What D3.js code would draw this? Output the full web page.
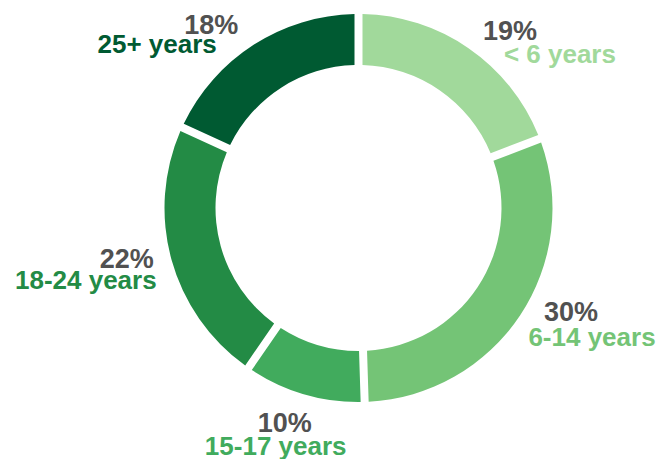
<!DOCTYPE html>
<html>
<head>
<meta charset="utf-8">
<script src="https://cdn.jsdelivr.net/npm/d3@7"></script>
<style>
  body { margin: 0; background: #fff; }
  text { font-family: "Liberation Sans", Arial, sans-serif; font-weight: bold; }
</style>
</head>
<body>
<svg id="chart"></svg>
<script>
// age groups, clockwise from 12 o'clock
const categories = ["< 6 years", "6-14 years", "15-17 years", "18-24 years", "25+ years"];
const shares = [19, 30, 10, 22, 18];
const colors = ["#a1d99b", "#74c476", "#41ab5d", "#238b45", "#005a32"];

// hand placed label nudges (relative to the label anchor on each slice)
const pctNudge = [[21, 21], [21, -14], [-9, 3], [-10, -1], [-23, 19]];
const catNudge = [[71, 44], [42, 11], [-18, 26], [-51, 20], [-77, 38]];

const width = 658;
const height = 459;
const cx = 358.5;
const cy = 208;
const outerR = 194;
const innerR = 143;
const labelR = 230;

const svg = d3.select('#chart')
  .attr('width', width)
  .attr('height', height);

const data = categories.map(function (c, i) {
  return { label: c, value: shares[i], color: colors[i], i: i };
});

const pie = d3.pie()
  .sort(null)
  .value(function (d) { return d.value });

const arc = d3.arc()
  .innerRadius(innerR)
  .outerRadius(outerR)
  .padRadius(100)
  .padAngle(0.08);

const labelArc = d3.arc()
  .innerRadius(labelR)
  .outerRadius(labelR);

const arcs = pie(data);

const g = svg.append('g')
  .attr('transform', 'translate(' + cx + ',' + cy + ')');

g.append('g')
  .attr('class', 'slices')
  .selectAll('path')
  .data(arcs)
  .enter().append('path')
    .attr('d', arc)
    .attr('fill', function (d) { return d.data.color });

const labels = g.append('g')
  .attr('class', 'labels')
  .selectAll('g')
  .data(arcs)
  .enter().append('g')
    .attr('transform', function (d) {
      const c = labelArc.centroid(d);
      return 'translate(' + c[0] + ',' + c[1] + ')';
    });

labels.append('text')
  .attr('x', function (d) { return pctNudge[d.data.i][0] })
  .attr('y', function (d) { return pctNudge[d.data.i][1] })
  .attr('text-anchor', 'middle')
  .attr('font-size', 27)
  .attr('fill', '#515151')
  .text(function (d) { return d.data.value + '%' });

labels.append('text')
  .attr('x', function (d) { return catNudge[d.data.i][0] })
  .attr('y', function (d) { return catNudge[d.data.i][1] })
  .attr('text-anchor', 'middle')
  .attr('font-size', 26)
  .attr('fill', function (d) { return d.data.color })
  .text(function (d) { return d.data.label });
</script>
</body>
</html>
